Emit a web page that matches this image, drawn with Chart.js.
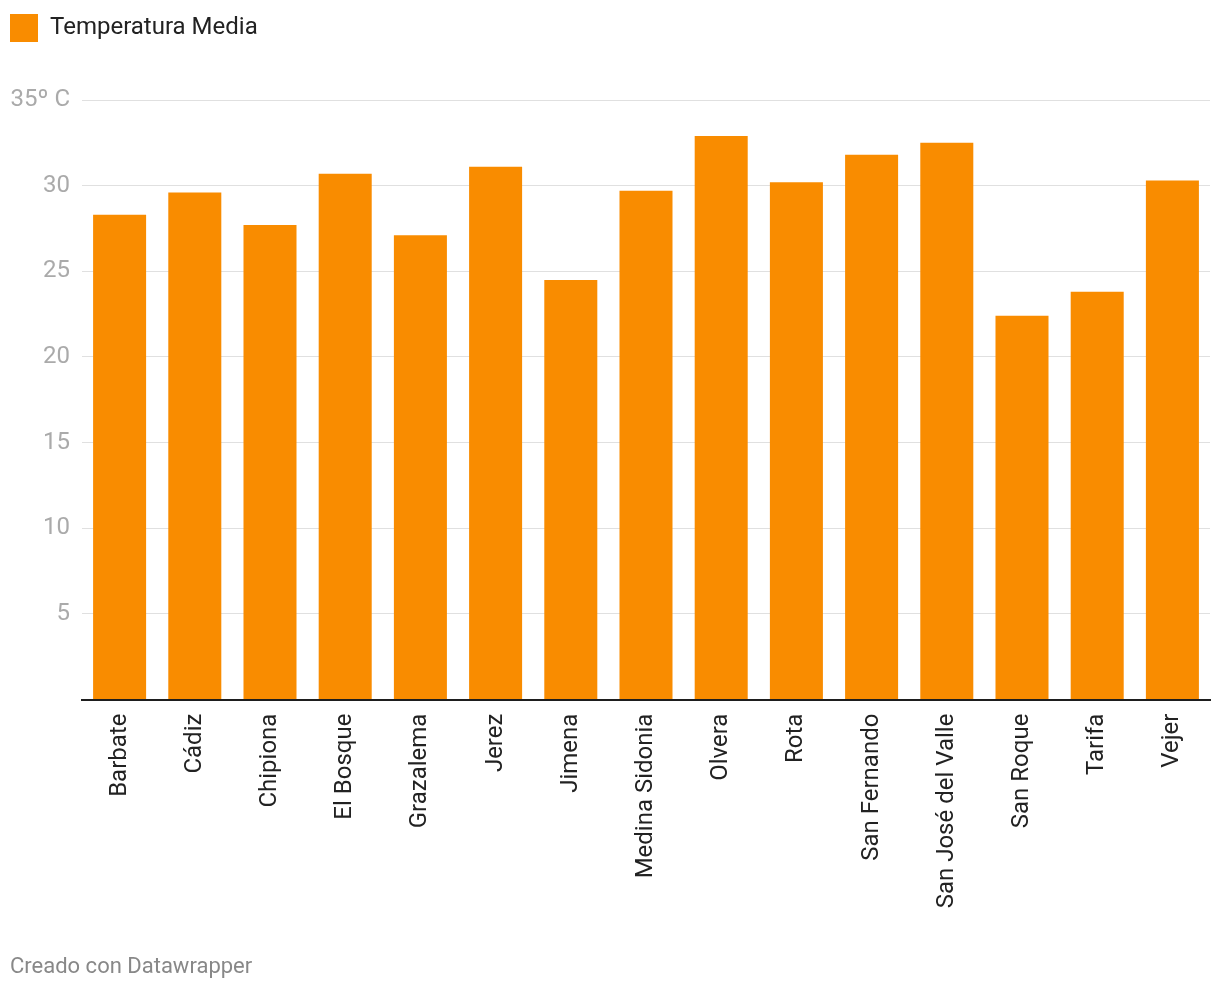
<!DOCTYPE html>
<html>
<head>
<meta charset="utf-8">
<script src="https://cdn.jsdelivr.net/npm/chart.js@4"></script>
<style>
  html, body { margin: 0; padding: 0; background: #fff; }
  #wrap { width: 1220px; height: 992px; }
</style>
</head>
<body>
<div id="wrap"><canvas id="chart"></canvas></div>
<script>
// Data
const municipios = ['Barbate', 'Cádiz', 'Chipiona', 'El Bosque', 'Grazalema', 'Jerez', 'Jimena',
    'Medina Sidonia', 'Olvera', 'Rota', 'San Fernando', 'San José del Valle', 'San Roque', 'Tarifa', 'Vejer'];
const temperaturaMedia = [28.3, 29.6, 27.7, 30.7, 27.1, 31.1, 24.5, 29.7, 32.9, 30.2, 31.8, 32.5, 22.4, 23.8, 30.3];
const yTicks = [0, 5, 10, 15, 20, 25, 30, 35];

const naranja = '#f98c00';
Chart.defaults.font.family = 'Roboto, "Noto Sans", sans-serif';

// Extra room under the legend so the plot starts lower
const legendSpacing = {
    id: 'legendSpacing',
    beforeInit(chart) {
        const origFit = chart.legend.fit;
        chart.legend.fit = function () {
            origFit.bind(this)();
            this.height = 86;
        };
    }
};

const ctx = document.querySelector('#chart');
new Chart(ctx, {
    type: 'bar',
    data: {
        labels: municipios,
        datasets: [{
            label: 'Temperatura Media',
            data: temperaturaMedia,
            backgroundColor: naranja,
            borderWidth: 0,
            barPercentage: 0.705,
            categoryPercentage: 1
        }]
    },
    plugins: [legendSpacing],
    options: {
        responsive: true,
        maintainAspectRatio: false,
        animation: false,
        layout: { padding: { top: 14, left: 10, right: 10, bottom: 11 } },
        plugins: {
            tooltip: { enabled: false },
            legend: {
                position: 'top',
                align: 'start',
                labels: {
                    boxWidth: 28,
                    boxHeight: 28,
                    color: '#222',
                    font: { size: 24 },
                    padding: 0
                }
            },
            subtitle: {
                display: true,
                text: 'Creado con Datawrapper',
                position: 'bottom',
                align: 'start',
                color: '#888',
                font: { size: 22, weight: 'normal' },
                padding: { top: 0, bottom: 0 }
            }
        },
        scales: {
            x: {
                afterFit: (scale) => { scale.height = 255; },
                grid: { display: false, drawTicks: false },
                border: { display: true, color: '#1e1e1e', width: 2 },
                ticks: {
                    color: '#222',
                    font: { size: 24 },
                    minRotation: 90,
                    maxRotation: 90,
                    padding: 14,
                    autoSkip: false
                }
            },
            y: {
                min: 0,
                max: 35,
                afterFit: (scale) => { scale.width = 72; },
                afterBuildTicks: (scale) => { scale.ticks = yTicks.map(v => ({ value: v })); },
                border: { display: false },
                grid: { color: '#e0e0e0', lineWidth: 1, drawTicks: false },
                ticks: {
                    color: '#aaa',
                    font: { size: 24 },
                    padding: 12,
                    callback: (v) => v === 35 ? '35º C' : (v === 0 ? '' : v)
                }
            }
        }
    }
});
</script>
</body>
</html>
